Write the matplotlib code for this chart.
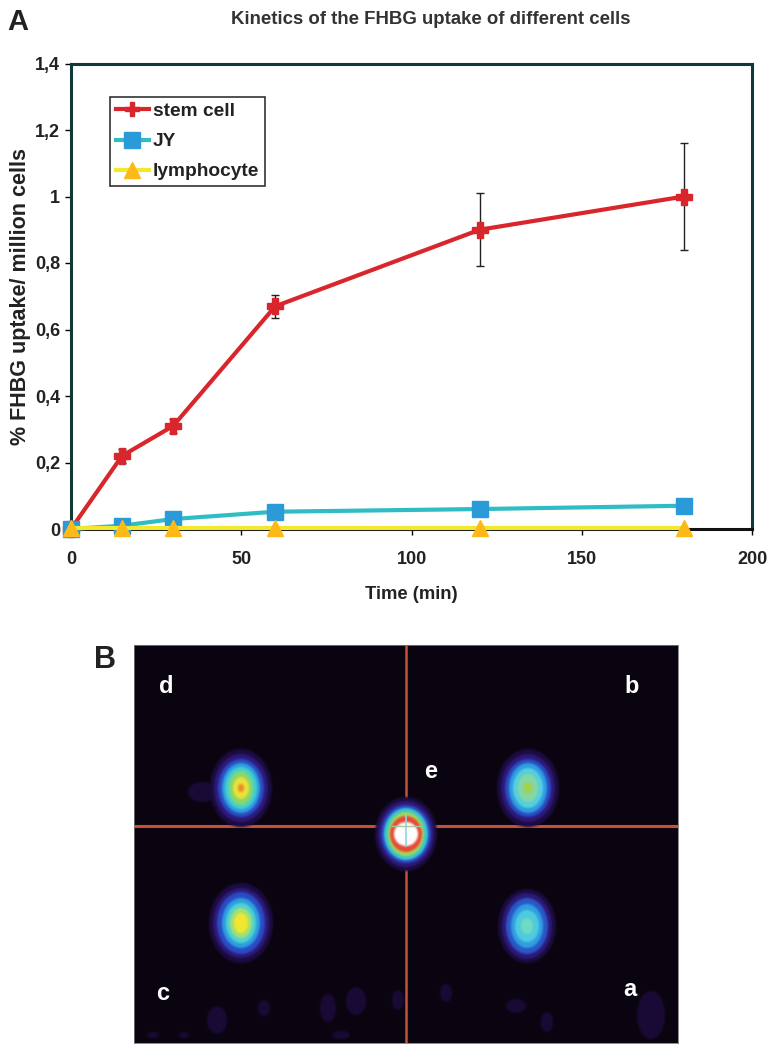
#!/usr/bin/env python3
"""FHBG uptake kinetics (A) and the scintigraphy-style spot image (B)."""

import matplotlib

matplotlib.use("Agg")
import matplotlib.pyplot as plt
import numpy as np
from matplotlib.colors import to_rgb
from matplotlib.patches import Ellipse

plt.rcParams["font.family"] = ["Liberation Sans", "DejaVu Sans"]

WIDTH, HEIGHT = 772, 1050

time_min = [0, 15, 30, 60, 120, 180]
stem_cell = [0.0, 0.22, 0.31, 0.67, 0.90, 1.00]
stem_err = [0.0, 0.02, 0.02, 0.035, 0.11, 0.16]
jy = [0.0, 0.01, 0.03, 0.052, 0.06, 0.07]
lymphocyte = [0.003, 0.003, 0.003, 0.003, 0.003, 0.003]

x_ticks = [0, 50, 100, 150, 200]
y_ticks = [0, 0.2, 0.4, 0.6, 0.8, 1.0, 1.2, 1.4]
y_tick_labels = ["0", "0,2", "0,4", "0,6", "0,8", "1", "1,2", "1,4"]

# panel B, in reference pixels
spot_x = [241, 528, 406, 241, 527]
spot_y = [788, 788, 834, 923, 926]
spot_rings = [
    [(31, 39), (27, 34), (23, 29), (19, 25), (16, 21), (12, 17), (8, 11), (3, 4)],
    [(31, 39), (27, 34), (23, 29), (19, 25), (15, 20), (10, 14), (4, 5)],
    [(31, 37), (28, 33), (25, 29), (22, 26), (18, 22), (16, 18), (12, 12)],
    [(32, 40), (28, 35), (24, 31), (19, 25), (15, 20), (11, 15), (7, 10)],
    [(29, 37), (25, 33), (21, 28), (16, 22), (12, 16), (6, 8)],
]
spot_colors = [
    ["#1c0c42", "#2e1a78", "#2a4cc4", "#2f9fe0", "#45d0d0", "#8ad86a", "#eae23a", "#ee8a2a"],
    ["#1c0c42", "#2e1a78", "#2a4cc4", "#2f9fe0", "#58d0e0", "#86d8a0", "#a8d040"],
    ["#1c0c42", "#2e1a78", "#2a4cc4", "#3cc8d0", "#a8d850", "#e8483a", "#ffffff"],
    ["#1c0c42", "#2e1a78", "#2a4cc4", "#2f9fe0", "#50d4d0", "#a8e070", "#f0e830"],
    ["#1c0c42", "#2e1a78", "#2a58c8", "#30a0e0", "#50cce0", "#70dcc0"],
]
blob_x = [202, 217, 264, 328, 356, 341, 398, 446, 516, 547, 651, 153, 184]
blob_y = [792, 1020, 1008, 1008, 1001, 1035, 1000, 993, 1006, 1022, 1015, 1035, 1035]
blob_rx = [14, 10, 6, 8, 10, 9, 6, 6, 10, 6, 14, 6, 5]
blob_ry = [10, 14, 8, 14, 14, 4, 10, 9, 7, 10, 24, 3, 3]
letter_names = ["d", "b", "e", "c", "a"]
letter_x = [166, 632, 431, 163, 630]
letter_y = [686, 686, 771, 993, 989]


def px_axes(fig, left, top, right, bottom):
    return fig.add_axes([left / WIDTH, 1 - bottom / HEIGHT, (right - left) / WIDTH, (bottom - top) / HEIGHT])


def soft_edge(color, sigma=1.0):
    """agg_filter that feathers the alpha of a flat-coloured patch."""
    rgb = to_rgb(color)
    radius = int(3 * sigma)
    kernel = np.exp(-0.5 * (np.arange(-radius, radius + 1) / sigma) ** 2)
    kernel /= kernel.sum()

    def apply(image, dpi):
        alpha = np.pad(image[:, :, 3], radius)
        alpha = np.apply_along_axis(np.convolve, 0, alpha, kernel, mode="same")
        alpha = np.apply_along_axis(np.convolve, 1, alpha, kernel, mode="same")
        out = np.zeros(alpha.shape + (4,))
        out[:, :, :3] = rgb
        out[:, :, 3] = alpha
        return out, -radius, -radius

    return apply


def add_soft_ellipse(ax, x, y, rx, ry, color, zorder):
    patch = Ellipse((x, y), 2 * rx, 2 * ry, facecolor=color, edgecolor="none", zorder=zorder)
    patch.set_agg_filter(soft_edge(color))
    ax.add_patch(patch)


def plot_kinetics(fig):
    ax = px_axes(fig, 71, 63.5, 752, 529)
    ax.errorbar(
        time_min, stem_cell, yerr=stem_err, fmt="none", ecolor="#222222", elinewidth=1,
        capsize=3, capthick=1, clip_on=False, zorder=2,
    )
    ax.plot(
        time_min, stem_cell, color="#d8262c", linewidth=3, marker="P", markersize=11,
        markeredgecolor="#d8262c", label="stem cell", clip_on=False, zorder=3,
    )
    ax.plot(
        time_min, jy, color="#2fbcc4", linewidth=3, marker="s", markersize=11.5,
        markerfacecolor="#2a9ad8", markeredgecolor="#2a9ad8", label="JY", clip_on=False, zorder=4,
    )
    ax.plot(
        time_min, lymphocyte, color="#f2e92e", linewidth=3, marker="^", markersize=12,
        markerfacecolor="#fcb918", markeredgecolor="#fcb918", label="lymphocyte", clip_on=False, zorder=5,
    )
    ax.set_xlim(0, 200)
    ax.set_ylim(0, 1.4)
    ax.set_xticks(x_ticks)
    ax.set_yticks(y_ticks)
    ax.set_yticklabels(y_tick_labels)
    ax.tick_params(axis="x", length=4, width=1, labelsize=13, pad=12)
    ax.tick_params(axis="y", length=4, width=1, labelsize=13, pad=4)
    for label in ax.get_xticklabels() + ax.get_yticklabels():
        label.set_fontweight("bold")
        label.set_color("#222222")
    for side in ["left", "right", "top"]:
        ax.spines[side].set_linewidth(2.2)
        ax.spines[side].set_color("#12393a")
    ax.spines["bottom"].set_linewidth(2.2)
    ax.spines["bottom"].set_color("#111111")
    ax.set_xlabel("Time (min)", fontsize=13.3, fontweight="bold", color="#222222", labelpad=13)
    ax.set_ylabel("% FHBG uptake/ million cells", fontsize=15.5, fontweight="bold", color="#222222", labelpad=3)
    leg = ax.legend(
        loc="upper left", bbox_to_anchor=(0.057, 0.928), fontsize=13.8, frameon=True, fancybox=False,
        edgecolor="#333333", framealpha=1, borderaxespad=0, borderpad=0.3, handlelength=1.75,
        handletextpad=0.2, labelspacing=0.66, markerscale=0.95,
    )
    leg.get_frame().set_linewidth(1.2)
    for text in leg.get_texts():
        text.set_fontweight("bold")
        text.set_color("#222222")


def plot_spots(fig):
    ax = px_axes(fig, 134, 645, 678, 1043)
    ax.set_xlim(134, 678)
    ax.set_ylim(1043, 645)
    ax.set_facecolor("#0a0410")
    ax.set_xticks([])
    ax.set_yticks([])
    for spine in ax.spines.values():
        spine.set_linewidth(0.6)
        spine.set_color("#777777")
    for x, y, rx, ry in zip(blob_x, blob_y, blob_rx, blob_ry):
        add_soft_ellipse(ax, x, y, rx, ry, "#190b36", 1)
    ax.axvline(406, color="#c4503a", linewidth=1.8, zorder=1.5)
    ax.axhline(826, color="#c4503a", linewidth=2.2, zorder=1.5)
    for x, y, rings, colors in zip(spot_x, spot_y, spot_rings, spot_colors):
        for index, ((rx, ry), color) in enumerate(zip(rings, colors)):
            add_soft_ellipse(ax, x, y, rx, ry, color, 2 + index * 0.01)
    ax.plot([406, 406], [815, 846], color="#8ad8e0", linewidth=1.2, zorder=3)
    ax.plot([392, 420], [826, 826], color="#a8c8a0", linewidth=1.0, zorder=3)
    for name, x, y in zip(letter_names, letter_x, letter_y):
        ax.text(x, y, name, color="white", fontsize=17, fontweight="bold", ha="center", va="center", zorder=4)


def main():
    fig = plt.figure(figsize=(WIDTH / 100, HEIGHT / 100), dpi=100)
    plot_kinetics(fig)
    plot_spots(fig)
    fig.text(431 / WIDTH, 1 - 20 / HEIGHT, "Kinetics of the FHBG uptake of different cells", fontsize=13.4,
             fontweight="bold", color="#333333", ha="center", va="center")
    fig.text(18 / WIDTH, 1 - 22 / HEIGHT, "A", fontsize=21, fontweight="bold", color="#222222", ha="center", va="center")
    fig.text(105 / WIDTH, 1 - 660 / HEIGHT, "B", fontsize=22, fontweight="bold", color="#222222", ha="center", va="center")
    fig.savefig("out.png", dpi=100)
    plt.close(fig)


if __name__ == "__main__":
    main()
